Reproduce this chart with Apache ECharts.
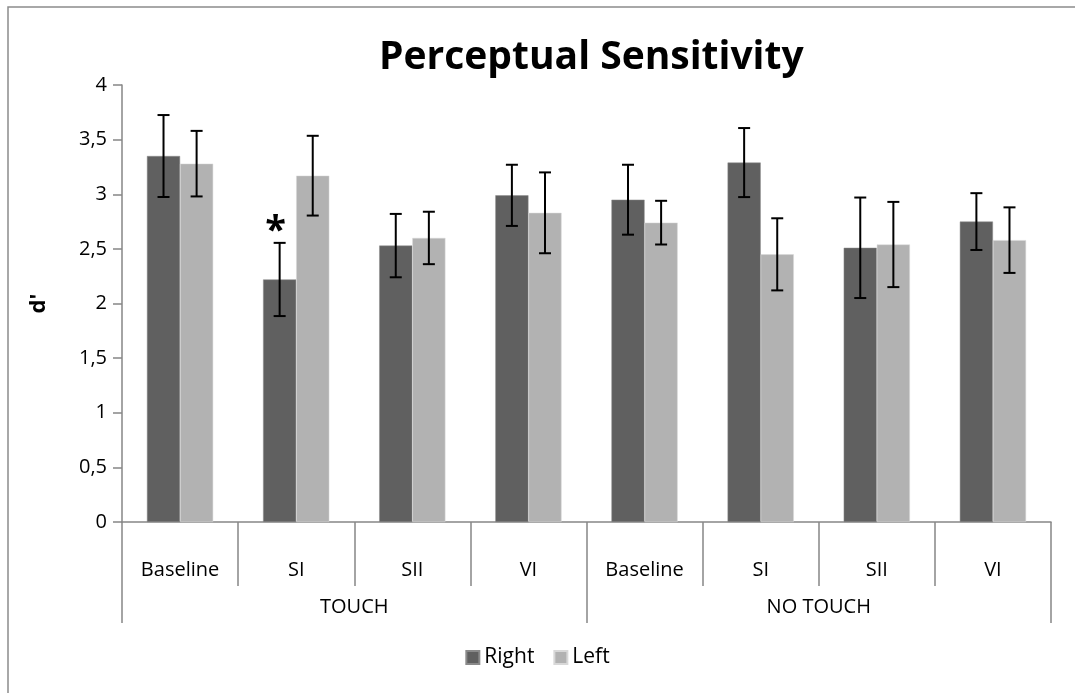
<!DOCTYPE html>
<html>
<head>
<meta charset="utf-8">
<script src="https://cdn.jsdelivr.net/npm/echarts@6/dist/echarts.min.js"></script>
<style>
html,body{margin:0;padding:0;background:#fff;}
#main{width:1075px;height:693px;}
</style>
</head>
<body>
<div id="main"></div>
<script>
const categories = ['Baseline', 'SI', 'SII', 'VI', 'Baseline', 'SI', 'SII', 'VI'];
const groups = ['TOUCH', 'NO TOUCH'];
const rightValues = [3.35, 2.22, 2.53, 2.99, 2.95, 3.29, 2.51, 2.75];
const rightErrors = [0.375, 0.335, 0.29, 0.28, 0.32, 0.316, 0.46, 0.26];
const leftValues = [3.28, 3.17, 2.60, 2.83, 2.74, 2.45, 2.54, 2.58];
const leftErrors = [0.30, 0.365, 0.24, 0.37, 0.20, 0.33, 0.39, 0.30];
const yTicks = ['0', '0,5', '1', '1,5', '2', '2,5', '3', '3,5', '4'];

const FONT = 'Open Sans';
const BAR_GAP_CAT = 0.43;
const LABEL_SIZE = 20;

function errSeries(name, values, errors, side) {
  return {
    type: 'custom',
    name: name + ' err',
    xAxisIndex: 0,
    yAxisIndex: 0,
    silent: true,
    z: 10,
    data: values.map((v, i) => [i, v - errors[i], v + errors[i]]),
    renderItem: function (params, api) {
      const i = api.value(0);
      const lo = api.coord([i, api.value(1)]);
      const hi = api.coord([i, api.value(2)]);
      const band = api.size([1, 0])[0];
      const barW = band * (1 - BAR_GAP_CAT) / 2;
      const x = lo[0] + side * barW / 2;
      const cap = 6;
      const style = { stroke: '#000', lineWidth: 2 };
      return {
        type: 'group',
        children: [
          { type: 'line', shape: { x1: x, y1: hi[1], x2: x, y2: lo[1] }, style: style },
          { type: 'line', shape: { x1: x - cap, y1: hi[1], x2: x + cap, y2: hi[1] }, style: style },
          { type: 'line', shape: { x1: x - cap, y1: lo[1], x2: x + cap, y2: lo[1] }, style: style }
        ]
      };
    }
  };
}

const chart = echarts.init(document.getElementById('main'), null, { renderer: 'canvas' });
chart.setOption({
  backgroundColor: '#fff',
  animation: false,
  textStyle: { fontFamily: FONT },
  title: {
    text: 'Perceptual Sensitivity',
    left: 374,
    top: 33,
    textStyle: { fontFamily: FONT, fontSize: 39, fontWeight: 'bold', color: '#000' }
  },
  graphic: [{
    type: 'rect',
    shape: { x: 8, y: 7, width: 1200, height: 800 },
    style: { fill: 'none', stroke: '#8c8c8c', lineWidth: 1.5 },
    silent: true
  }],
  legend: {
    data: ['Right', 'Left'],
    bottom: 20,
    left: 'center',
    itemWidth: 13,
    itemHeight: 13,
    itemGap: 19,
    icon: 'rect',
    textStyle: { fontFamily: FONT, fontSize: 21, color: '#000', padding: [0, 0, 0, 0] }
  },
  grid: { left: 122, right: 24, top: 85, bottom: 171, containLabel: false },
  xAxis: [{
    type: 'category',
    data: categories,
    position: 'bottom',
    axisLine: { lineStyle: { color: '#868686', width: 1.5 } },
    axisTick: { show: true, length: 64, alignWithLabel: false, lineStyle: { color: '#868686', width: 1.5 } },
    axisLabel: { color: '#000', fontSize: LABEL_SIZE, fontFamily: FONT, margin: 38, interval: 0 }
  }, {
    type: 'category',
    data: groups,
    position: 'bottom',
    axisLine: { show: false },
    axisTick: { show: true, length: 101, lineStyle: { color: '#868686', width: 1.5 } },
    axisLabel: { color: '#000', fontSize: LABEL_SIZE, fontFamily: FONT, margin: 75, interval: 0 }
  }],
  yAxis: {
    type: 'value',
    min: 0,
    max: 4,
    interval: 0.5,
    name: "d'",
    nameLocation: 'middle',
    nameGap: 72,
    nameTextStyle: { fontFamily: FONT, fontSize: 22, fontWeight: 'bold', color: '#000' },
    axisLine: { show: true, lineStyle: { color: '#868686', width: 1.5 } },
    axisTick: { show: true, length: 9, lineStyle: { color: '#868686', width: 1.5 } },
    splitLine: { show: false },
    axisLabel: {
      color: '#000', fontSize: LABEL_SIZE, fontFamily: FONT, margin: 15,
      formatter: function (v) { return yTicks[Math.round(v * 2)]; }
    }
  },
  series: [{
    name: 'Right',
    type: 'bar',
    data: rightValues,
    barGap: '0%',
    barCategoryGap: (BAR_GAP_CAT * 100) + '%',
    itemStyle: { color: '#606060', borderColor: '#8a8a8a', borderWidth: 0.5 },
    markPoint: {
      symbol: 'circle',
      symbolSize: 0,
      data: [{ coord: [1, rightValues[1] + rightErrors[1]] }],
      label: {
        show: true, formatter: '*', position: 'top', distance: 0, offset: [-4, 8],
        fontSize: 38, fontWeight: 'bold', color: '#000', fontFamily: FONT
      }
    }
  }, {
    name: 'Left',
    type: 'bar',
    data: leftValues,
    barGap: '0%',
    barCategoryGap: (BAR_GAP_CAT * 100) + '%',
    itemStyle: { color: '#b2b2b2', borderColor: '#d8d8d8', borderWidth: 0.5 }
  },
  errSeries('Right', rightValues, rightErrors, -1),
  errSeries('Left', leftValues, leftErrors, 1)
  ]
});
</script>
</body>
</html>
